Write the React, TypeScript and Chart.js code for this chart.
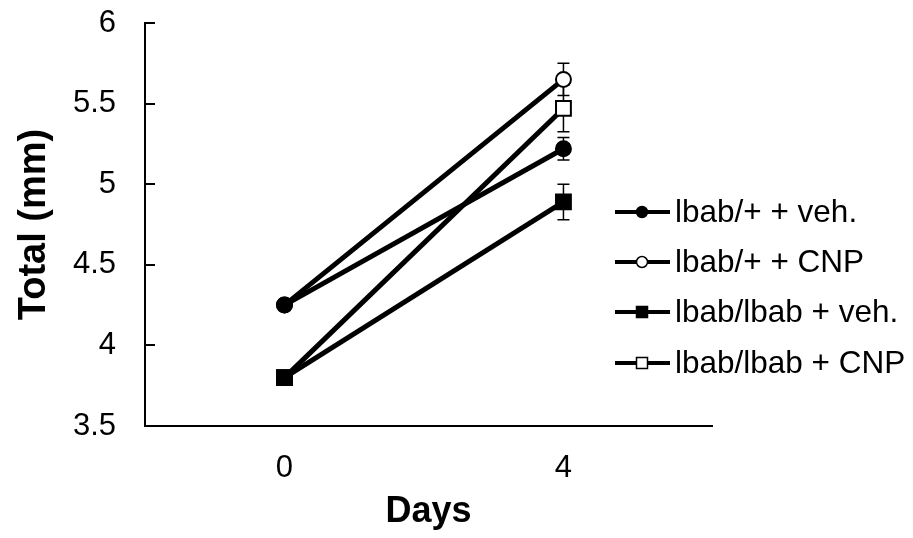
import React, { useEffect, useRef } from "react";
import { Chart, registerables } from "chart.js";

Chart.register(...registerables);

const days = [0, 4];
const xTickValues = [0, 4];
const seriesNames = ["lbab/+ + veh.", "lbab/+ + CNP", "lbab/lbab + veh.", "lbab/lbab + CNP"];
const hetVeh = [4.25, 5.22];
const hetCnp = [4.25, 5.65];
const homVeh = [3.8, 4.89];
const homCnp = [3.8, 5.47];
const hetVehErr = [0, 0.07];
const hetCnpErr = [0, 0.1];
const homVehErr = [0, 0.11];
const homCnpErr = [0, 0.145];

const FONT = "'Liberation Sans', Arial, sans-serif";

export default function App() {
  const ref = useRef<HTMLCanvasElement | null>(null);
  useEffect(() => {
    document.body.style.margin = "0";
    const values = [hetVeh, hetCnp, homVeh, homCnp];
    const errs = [hetVehErr, hetCnpErr, homVehErr, homCnpErr];
    const styles = [
      { shape: "circle", fill: "#000" },
      { shape: "circle", fill: "#fff" },
      { shape: "rect", fill: "#000" },
      { shape: "rect", fill: "#fff" },
    ];
    const datasets = values.map((vals, i) => ({
      label: seriesNames[i],
      data: vals.map((v, j) => ({ x: days[j], y: v })),
      borderColor: "#000",
      borderWidth: 5,
      pointStyle: styles[i].shape,
      pointRadius: styles[i].shape === "rect" ? 10.5 : 7.5,
      pointBackgroundColor: styles[i].fill,
      pointBorderColor: "#000",
      pointBorderWidth: 2,
      fill: false,
      tension: 0,
      errs: errs[i],
    }));

    const errorBars = {
      id: "errorBars",
      beforeDatasetsDraw(chart: any) {
        const ctx = chart.ctx;
        const ys = chart.scales.y;
        ctx.save();
        ctx.strokeStyle = "#000";
        ctx.lineWidth = 1.5;
        chart.data.datasets.forEach((ds: any, i: number) => {
          const meta = chart.getDatasetMeta(i);
          meta.data.forEach((pt: any, j: number) => {
            const e = ds.errs[j];
            if (!e) return;
            const v = ds.data[j].y;
            const y1 = ys.getPixelForValue(v + e);
            const y2 = ys.getPixelForValue(v - e);
            const x = pt.x;
            ctx.beginPath();
            ctx.moveTo(x, y1);
            ctx.lineTo(x, y2);
            ctx.moveTo(x - 6, y1);
            ctx.lineTo(x + 6, y1);
            ctx.moveTo(x - 6, y2);
            ctx.lineTo(x + 6, y2);
            ctx.stroke();
          });
        });
        ctx.restore();
      },
    };

    const innerTicks = {
      id: "innerTicks",
      afterDraw(chart: any) {
        const ctx = chart.ctx;
        const ys = chart.scales.y;
        const left = chart.chartArea.left;
        ctx.save();
        ctx.strokeStyle = "#000";
        ctx.lineWidth = 2;
        ys.ticks.forEach((t: any) => {
          const y = Math.round(ys.getPixelForValue(t.value));
          ctx.beginPath();
          ctx.moveTo(left, y);
          ctx.lineTo(left + 10, y);
          ctx.stroke();
        });
        ctx.restore();
      },
    };

    const legendPlugin = {
      id: "customLegend",
      afterDraw(chart: any) {
        const ctx = chart.ctx;
        const rows = [212, 262, 312, 363];
        ctx.save();
        chart.data.datasets.forEach((ds: any, i: number) => {
          const y = rows[i];
          ctx.strokeStyle = "#000";
          ctx.lineWidth = 4;
          ctx.beginPath();
          ctx.moveTo(615, y);
          ctx.lineTo(670, y);
          ctx.stroke();
          ctx.fillStyle = styles[i].fill;
          ctx.lineWidth = 1.5;
          ctx.beginPath();
          if (styles[i].shape === "circle") {
            ctx.arc(642, y, 5.5, 0, Math.PI * 2);
          } else {
            ctx.rect(636.5, y - 5.5, 11, 11);
          }
          ctx.fill();
          ctx.stroke();
          ctx.fillStyle = "#000";
          ctx.font = `31.5px ${FONT}`;
          ctx.textBaseline = "middle";
          ctx.textAlign = "left";
          ctx.fillText(ds.label, 675, y + 1);
        });
        ctx.restore();
      },
    };

    const chart = new Chart(ref.current as HTMLCanvasElement, {
      type: "line",
      data: { datasets: datasets as any },
      options: {
        animation: false,
        responsive: false,
        layout: { padding: { top: 23, right: 201, bottom: 0, left: 0 } },
        plugins: { legend: { display: false }, tooltip: { enabled: false } },
        scales: {
          x: {
            type: "linear",
            min: -2,
            max: 6.13,
            afterBuildTicks: (s: any) => {
              s.ticks = xTickValues.map((v) => ({ value: v }));
            },
            afterFit: (s: any) => {
              s.height = 112;
              s.paddingLeft = 0;
              s.paddingRight = 0;
            },
            grid: { display: false, drawTicks: false },
            border: { display: true, color: "#000", width: 2 },
            ticks: { color: "#000", font: { family: FONT, size: 31 }, padding: 24, maxRotation: 0, autoSkip: false },
            title: {
              display: true,
              text: "Days",
              color: "#000",
              font: { family: FONT, size: 36, weight: "bold" },
              padding: { top: 0, bottom: 4 },
            },
          },
          y: {
            min: 3.5,
            max: 6,
            afterFit: (s: any) => {
              s.width = 145;
              s.paddingTop = 0;
              s.paddingBottom = 0;
            },
            grid: { display: false, drawTicks: false },
            border: { display: true, color: "#000", width: 2 },
            ticks: {
              stepSize: 0.5,
              color: "#000",
              font: { family: FONT, size: 31 },
              padding: 29,
              callback: (v: any) => String(Number(v)),
            },
            title: {
              display: true,
              text: "Total (mm)",
              color: "#000",
              font: { family: FONT, size: 38, weight: "bold" },
              padding: { top: 12, bottom: 0 },
            },
          },
        },
      },
      plugins: [errorBars, innerTicks, legendPlugin],
    });
    return () => chart.destroy();
  }, []);
  return (
    <div style={{ position: "absolute", left: 0, top: 0, width: 913, height: 538, background: "#fff" }}>
      <canvas ref={ref} width={913} height={538} style={{ width: 913, height: 538 }} />
    </div>
  );
}
